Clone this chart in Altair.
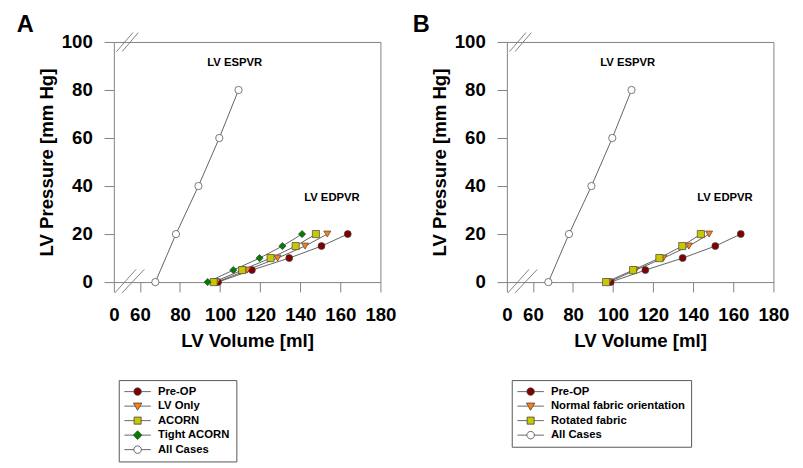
import altair as alt
import pandas as pd

FONT = "Liberation Sans"

# ---------------- data ----------------
pressures_edpvr = [0, 5, 10, 15, 20]
pressures_espvr = [0, 20, 40, 60, 80]
all_cases_vol = [67.7, 78.0, 89.2, 99.6, 109.2]

a_series = ["Pre-OP", "LV Only", "ACORN", "Tight ACORN", "All Cases"]
a_preop_vol = [99.0, 115.9, 134.5, 150.6, 163.7]
a_lvonly_vol = [98.3, 113.5, 128.7, 142.4, 153.5]
a_acorn_vol = [96.8, 111.0, 125.2, 137.7, 147.8]
a_tight_vol = [93.8, 106.6, 119.7, 131.1, 140.9]

b_series = ["Pre-OP", "Normal fabric orientation", "Rotated fabric", "All Cases"]
b_preop_vol = [98.8, 116.1, 134.7, 151.0, 163.7]
b_normal_vol = [97.8, 111.2, 125.1, 137.8, 147.9]
b_rotated_vol = [96.5, 110.0, 123.1, 134.5, 143.8]

x_min = 47          # position of the broken-axis "0"
x_ticks = [47, 60, 80, 100, 120, 140, 160, 180]
y_ticks = [0, 20, 40, 60, 80, 100]

curve_labels = ["LV ESPVR", "LV EDPVR"]
curve_label_x = [107.3, 155.8]
curve_label_y = [91.2, 35.0]

# axis-break slashes (in axis units)
break_x1 = [47.5, 51.1, 48.3, 51.1]
break_x2 = [58.1, 62.2, 56.5, 59.2]
break_y1 = [-4.5, -4.5, 96.0, 96.0]
break_y2 = [5.3, 5.3, 103.9, 103.9]

a_colors = ["#800000", "#FF7F0E", "#C8C800", "#008000", "#FFFFFF"]
b_colors = ["#800000", "#FF7F0E", "#C8C800", "#FFFFFF"]
OUTLINE = "#404040"

SH_CIRCLE = "circle"
SH_TRI = "triangle-down"
SH_SQ = "square"
SH_DIA = "diamond"
LEG_CIRCLE = "M-3,0H-0.85M0.85,0H3M-0.85,0A0.85,0.85,0,1,1,0.85,0A0.85,0.85,0,1,1,-0.85,0Z"
LEG_TRI = "M-3,0H-0.55M0.55,0H3M-0.95,-0.7L0.95,-0.7L0,0.95Z"
LEG_SQ = "M-3,0H-0.8M0.8,0H3M-0.8,-0.8H0.8V0.8H-0.8Z"
LEG_DIA = "M-3,0H-1M1,0H3M-1,0L0,-1L1,0L0,1Z"

a_shapes = [SH_CIRCLE, SH_TRI, SH_SQ, SH_DIA, SH_CIRCLE]
a_leg_shapes = [LEG_CIRCLE, LEG_TRI, LEG_SQ, LEG_DIA, LEG_CIRCLE]
a_sizes = [50, 55, 50, 72, 50]
b_shapes = [SH_CIRCLE, SH_TRI, SH_SQ, SH_CIRCLE]
b_leg_shapes = [LEG_CIRCLE, LEG_TRI, LEG_SQ, LEG_CIRCLE]
b_sizes = [50, 55, 50, 50]

W, H = 272, 245


def panel(series, vols, colors, shapes, leg_shapes, sizes, letter, dx):
    rows = []
    for s, v in zip(series, vols):
        pr = pressures_espvr if s == "All Cases" else pressures_edpvr
        for i, (xv, yv) in enumerate(zip(v, pr)):
            rows.append({"series": s, "volume": xv, "pressure": yv, "order": i})
    df = pd.DataFrame(rows)

    xs = alt.Scale(domain=[x_min, 180], nice=False, zero=False)
    ys = alt.Scale(domain=[0, 100], nice=False)
    xax = alt.Axis(values=x_ticks, labelExpr="datum.value < 50 ? '0' : datum.label",
                   grid=False, domain=False, tickSize=10, tickColor="#808080",
                   labelOverlap=False, labelFlush=False, labelBound=False,
                   labelFont=FONT, labelFontSize=19, labelFontWeight="bold", labelColor="black",
                   labelPadding=14, title="LV Volume [ml]", titleFont=FONT, titleFontSize=19,
                   titleFontWeight="bold", titleColor="black", titlePadding=8)
    yax = alt.Axis(values=y_ticks, grid=False, domain=False, tickSize=10, tickColor="#808080",
                   labelOverlap=False, labelFlush=False, labelBound=False,
                   labelFont=FONT, labelFontSize=19, labelFontWeight="bold", labelColor="black",
                   labelPadding=12, title="LV Pressure [mm Hg]", titleFont=FONT, titleFontSize=19,
                   titleFontWeight="bold", titleColor="black", titlePadding=5)

    def X(f):
        return alt.X(f, scale=xs, axis=xax)

    def Y(f):
        return alt.Y(f, scale=ys, axis=yax)

    base = alt.Chart(df)
    lines = base.mark_line(color="#505050", strokeWidth=0.9).encode(
        x=X("volume:Q"), y=Y("pressure:Q"),
        detail="series:N",
        order="order:Q",
    )
    pts = base.mark_point(filled=True, stroke=OUTLINE, strokeWidth=0.7, opacity=1).encode(
        x=X("volume:Q"), y=Y("pressure:Q"),
        fill=alt.Fill("series:N", scale=alt.Scale(domain=series, range=colors), legend=None),
        shape=alt.Shape("series:N", scale=alt.Scale(domain=series, range=shapes), legend=None),
        size=alt.Size("series:N", scale=alt.Scale(domain=series, range=sizes), legend=None),
    )
    leg = alt.Legend(title=None, orient="none", legendX=5, legendY=345, padding=6,
                     strokeColor="#555555", fillColor="white", symbolSize=81,
                     symbolStrokeWidth=0.8,
                     symbolOffset=7.5, labelOffset=15, rowPadding=1.8,
                     labelFont=FONT, labelFontSize=11.5, labelFontWeight="bold",
                     labelColor="black", labelLimit=400)
    legend_layer = base.transform_filter("datum.pressure < -1").mark_point(
        filled=True, strokeWidth=0.8, opacity=1).encode(
        x=X("volume:Q"), y=Y("pressure:Q"),
        fill=alt.Fill("series:N", scale=alt.Scale(domain=series, range=colors), legend=leg),
        stroke=alt.Stroke("series:N", scale=alt.Scale(domain=series, range=[OUTLINE] * len(series)),
                          legend=leg),
        shape=alt.Shape("series:N", scale=alt.Scale(domain=series, range=leg_shapes), legend=leg),
    )

    lab_df = pd.DataFrame({"text": curve_labels, "x": curve_label_x, "y": curve_label_y})
    labels = alt.Chart(lab_df).mark_text(font=FONT, fontSize=11.5, fontWeight="bold",
                                         color="black", align="center", baseline="middle").encode(
        x=X("x:Q"), y=Y("y:Q"),
        text="text:N",
    )

    br_df = pd.DataFrame({"x1": break_x1, "x2": break_x2, "y1": break_y1, "y2": break_y2})
    breaks = alt.Chart(br_df).mark_rule(color="#808080", strokeWidth=1).encode(
        x=X("x1:Q"), x2="x2:Q",
        y=Y("y1:Q"), y2="y2:Q",
    )

    return alt.layer(lines, pts, legend_layer, labels, breaks).resolve_scale(
        fill="independent", shape="independent", size="independent", stroke="independent"
    ).properties(
        width=W, height=H,
        title=alt.TitleParams(text=letter, anchor="start", frame="group", font=FONT,
                              fontSize=24, fontWeight="bold", color="black",
                              baseline="top", offset=-5, dx=dx),
    )


pa = panel(a_series, [a_preop_vol, a_lvonly_vol, a_acorn_vol, a_tight_vol, all_cases_vol],
           a_colors, a_shapes, a_leg_shapes, a_sizes, "A", -99)
pb = panel(b_series, [b_preop_vol, b_normal_vol, b_rotated_vol, all_cases_vol],
           b_colors, b_shapes, b_leg_shapes, b_sizes, "B", -96)

chart = alt.hconcat(pa, pb, spacing=15).resolve_scale(
    fill="independent", shape="independent", size="independent", stroke="independent"
).configure_view(stroke="#808080", strokeWidth=1).properties(
    background="white", padding={"left": 8, "top": 0, "right": 5, "bottom": 0}
)

chart.save("out.html", embed_options={"renderer": "svg", "actions": False})
